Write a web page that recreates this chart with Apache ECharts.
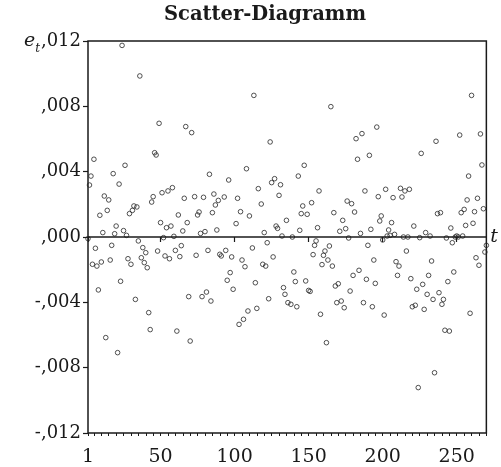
<!DOCTYPE html>
<html>
<head>
<meta charset="utf-8">
<script src="https://cdn.jsdelivr.net/npm/echarts@6/dist/echarts.min.js"></script>
<style>
html,body{margin:0;padding:0;background:#fff;}
#chart{width:501px;height:467px;}
</style>
</head>
<body>
<div id="chart"></div>
<script>
const chartTitle = 'Scatter-Diagramm';
const xAxisName = 't';
const yAxisName = 'e';
const yAxisNameSub = 't';

const periods = [
  1,2,3,4,5,6,7,8,9,10,11,12,13,14,15,16,17,18,19,20,
  21,22,23,24,25,26,27,28,29,30,31,32,33,34,35,36,37,38,39,40,
  41,42,43,44,45,46,47,48,49,50,51,52,53,54,55,56,57,58,59,60,
  61,62,63,64,65,66,67,68,69,70,
  71,73,74,75,76,77,78,79,80,81,82,83,84,85,86,87,88,89,90,91,
  93,94,95,96,97,98,99,101,102,103,104,105,106,107,108,109,110,
  112,113,114,115,116,118,119,120,121,122,123,124,125,126,127,128,129,130,
  131,132,133,134,135,136,
  138,139,140,141,142,143,144,145,146,147,148,149,150,151,152,153,154,155,156,157,
  158,159,160,161,162,163,164,165,166,167,168,169,170,171,172,173,174,175,176,177,
  178,179,180,181,182,183,184,185,186,187,188,189,190,191,192,193,194,195,196,197,
  198,199,200,201,202,203,
  204,205,206,207,208,209,210,211,212,213,214,215,216,217,218,219,220,221,222,223,
  224,225,226,227,228,229,230,231,232,233,234,235,236,237,238,239,240,241,242,243,
  244,245,246,247,248,249,250,251,252,253,254,255,256,257,258,259,260,261,262,263,
  264,265,266,267,268,269,270
];

const residuals = [
  -0.0001, 0.00318, 0.00373, -0.00167, 0.00476, -0.00069, -0.00178, -0.00324, 0.00133, -0.00153,
  0.00027, 0.00251, -0.00616, 0.00163, 0.00227, -0.00141, -0.00051, 0.00388, 0.0002, 0.00067,
  -0.00708, 0.00324, -0.00271, 0.01173, 0.00039, 0.00439, 0.0001, -0.00133, 0.00143, -0.00167,
  0.00163, 0.0019, -0.00382, 0.00184, -0.00024, 0.00986, -0.00127, -0.00065, -0.00157, -0.00096,
  -0.00188, -0.00463, -0.00567, 0.00214, 0.00247, 0.00516, 0.00502, -0.00086, 0.00696, 0.00088,
  0.00271, -0.00004, -0.00116, 0.00057, 0.00282, -0.00133, 0.00067, 0.00302, 0.00004, -0.00082,
  -0.00576, 0.00135, -0.0012, -0.00053, 0.00037, 0.00237, 0.00676, 0.00088, -0.00365, -0.00637,
  0.00639, 0.00247, -0.00112, 0.00135, 0.00153, 0.00022, -0.00365, 0.00243, 0.00033, -0.00337,
  -0.00082, 0.00384, -0.00392, 0.00149, 0.00263, 0.00196, 0.00043, 0.00224, -0.00106, -0.00116,
  0.00245, -0.00082, -0.00265, 0.00349, -0.00218, -0.00122, -0.0032, 0.00082, 0.00237, -0.00535,
  0.00155, -0.00141, -0.00504, -0.00182, 0.00418, -0.00453, 0.00129,
  -0.00067, 0.00867, -0.0028, -0.00437, 0.00296, 0.00202, -0.00167, 0.00027, -0.00178, -0.00035,
  -0.00378, 0.00582, 0.00333, -0.00122, 0.00357, 0.00067, 0.00053, 0.00255,
  0.0032, 0.00006, -0.0031, -0.00351, 0.00102, -0.00402,
  -0.00412, 0, -0.00214, -0.00273, -0.00427, 0.00373, 0.00041, 0.00143, 0.0019, 0.00439,
  -0.00269, 0.00139, -0.00327, -0.00333, 0.0021, -0.00108, -0.00051, -0.00024, 0.00057, 0.00282,
  -0.00473, -0.00169, -0.00112, -0.00086, -0.00647, -0.00141, -0.00055, 0.00798, -0.00178, 0.00149,
  -0.003, -0.00402, -0.00286, 0.00035, -0.00392, 0.00102, -0.00433, 0.00051, 0.0022, -0.00006,
  -0.00331, 0.00204, -0.00235, 0.00153, 0.00602, 0.00476, -0.00204, 0.00022, 0.00633, -0.00402,
  0.00282, -0.00259, -0.00051, 0.005, 0.00047, -0.00427, -0.00141, -0.00284, 0.00673, 0.00247,
  0.00098, 0.00129, -0.00018, -0.00478, 0.00292, 0.00006,
  0.00043, 0.0001, 0.00088, 0.00241, 0.00016, -0.00151, -0.00235, -0.00178, 0.00298, 0.00245,
  0, 0.00282, -0.00086, 0, 0.00292, -0.00255, -0.00427, 0.00067, -0.00418, -0.0032,
  -0.00922, -0.00004, 0.00512, -0.0029, -0.00443, 0.00027, -0.00351, -0.00235, 0.00006, -0.00147,
  -0.00382, -0.00831, 0.00586, 0.00143, -0.00341, 0.00149, -0.00412, -0.00382, -0.00571, -0.00006,
  -0.00273, -0.00576, 0.00055, -0.00035, -0.00214, 0, 0.00006, 0, 0.00624, 0.00149,
  0.00006, 0.00169, 0.00071, 0.00227, 0.00373, -0.00467, 0.00867, 0.00084, 0.00155, -0.00127,
  0.00237, -0.00173, 0.00631, 0.00441, 0.00173, -0.00092, -0.00051
];

const xLabelValues = [1, 50, 100, 150, 200, 250];
const xMin = 1, xMax = 270;
const yMin = -0.012, yMax = 0.012, yStep = 0.004;

const minorTicks = [1];
for (let v = 5; v <= xMax; v += 5) minorTicks.push(v);

const FONT = 'DejaVu Serif';
const INK = '#1a1a1a';

function fmtY(v) {
  const n = Math.round(Math.abs(v) * 1000);
  if (n === 0) return ',000';
  return (v < 0 ? '-' : '') + ',' + String(n).padStart(3, '0');
}

const chart = echarts.init(document.getElementById('chart'), null, {renderer: 'canvas'});
chart.setOption({
  animation: false,
  backgroundColor: '#fff',
  title: {
    text: chartTitle,
    left: 260, top: 0, textAlign: 'center',
    textStyle: {fontFamily: FONT, fontWeight: 'bold', fontSize: 19.5, color: INK}
  },
  grid: {
    left: 88, right: 14, top: 41, bottom: 33,
    show: true, borderColor: INK, borderWidth: 1.5, backgroundColor: 'transparent'
  },
  xAxis: [{
    type: 'value', min: xMin, max: xMax,
    axisLine: {show: false},
    splitLine: {show: false},
    axisTick: {show: true, length: 5, customValues: xLabelValues, lineStyle: {color: INK, width: 1.2}},
    axisLabel: {customValues: xLabelValues, fontFamily: FONT, fontSize: 19, color: INK, margin: 15},
    name: xAxisName, nameLocation: 'end', nameGap: 4,
    nameTextStyle: {fontFamily: FONT, fontStyle: 'italic', fontSize: 19, color: INK, verticalAlign: 'middle'}
  }, {
    type: 'value', min: xMin, max: xMax, position: 'bottom',
    axisLine: {show: false}, splitLine: {show: false},
    axisTick: {show: true, length: 3, customValues: minorTicks, lineStyle: {color: INK, width: 1}},
    axisLabel: {show: false}
  }],
  yAxis: {
    type: 'value', min: yMin, max: yMax, interval: yStep,
    axisLine: {show: false},
    splitLine: {show: false},
    axisTick: {show: true, length: 5, lineStyle: {color: INK, width: 1.2}},
    axisLabel: {formatter: fmtY, fontFamily: FONT, fontSize: 18, color: INK, margin: 7},
    name: '{e|' + yAxisName + '}{s|' + yAxisNameSub + '}',
    nameLocation: 'end', nameGap: 0, nameMoveOverlap: false,
    nameTextStyle: {
      align: 'right', verticalAlign: 'middle', padding: [0, 48, 0, 0],
      rich: {
        e: {fontFamily: FONT, fontStyle: 'italic', fontSize: 19, color: INK, verticalAlign: 'bottom', lineHeight: 20},
        s: {fontFamily: FONT, fontStyle: 'italic', fontSize: 12, color: INK, verticalAlign: 'bottom', lineHeight: 12, padding: [0, 0, -4, 0]}
      }
    }
  },
  series: [{
    type: 'scatter',
    xAxisIndex: 0, yAxisIndex: 0,
    data: periods.map((t, i) => [t, residuals[i]]),
    symbol: 'circle', symbolSize: 4.6,
    itemStyle: {color: 'rgba(255,255,255,0)', borderColor: '#262626', borderWidth: 1},
    markLine: {
      silent: true, symbol: ['none', 'none'],
      label: {show: false},
      lineStyle: {color: INK, width: 1.5, type: 'solid'},
      data: [{yAxis: 0}]
    }
  }]
});
</script>
</body>
</html>
